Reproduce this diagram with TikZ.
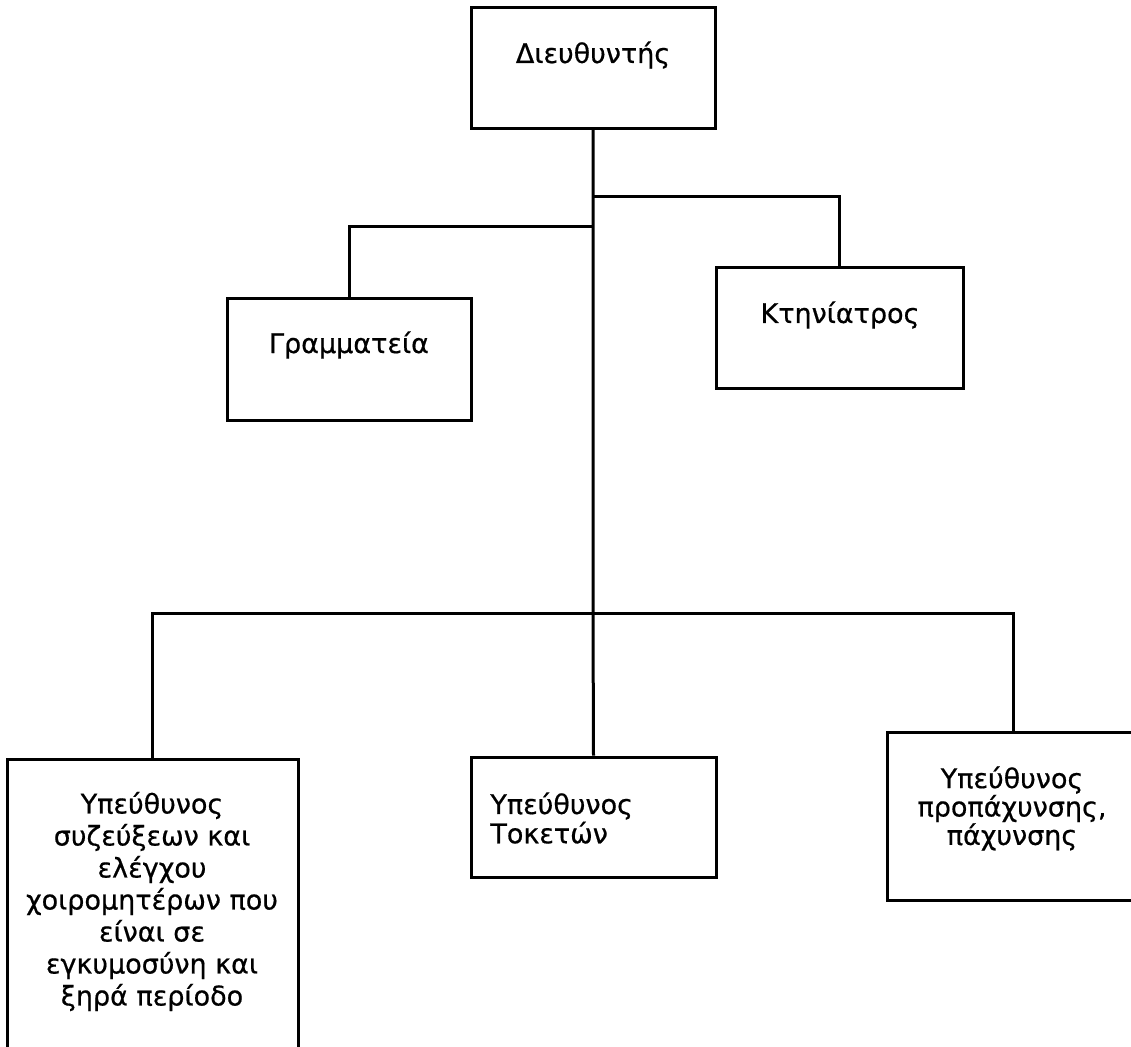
\documentclass[tikz,border=0pt]{standalone}
\usepackage{fontspec}
\setmainfont{DejaVu Sans}[BoldFont={DejaVu Sans},BoldFeatures={FakeBold=0.6}]
\begin{document}
\begin{tikzpicture}[x=0.5pt,y=-0.5pt,
  box/.style={draw, line width=1.5pt, rectangle, inner sep=0pt},
  txt/.style={inner sep=0pt, align=center, font=\bfseries\fontsize{13.5}{16}\selectfont},
  conn/.style={line width=1.5pt}]
\useasboundingbox (0,0) rectangle (1131,1046);
% boxes
\node[box, minimum width=122pt, minimum height=60.5pt] (dir) at (593,67.5) {};
\node[box, minimum width=122pt, minimum height=61pt] (gram) at (349,359) {};
\node[box, minimum width=123.5pt, minimum height=60.5pt] (ktin) at (839.5,327.5) {};
\node[box, minimum width=145.5pt, minimum height=150.5pt] (left) at (152.5,909.5) {};
\node[box, minimum width=122.5pt, minimum height=60pt] (mid) at (593.5,817) {};
\node[box, minimum width=126.5pt, minimum height=84pt] (right) at (1013.5,816) {};
% texts
\node[txt] (dirt) at (593,55) {Διευθυντής};
\node[txt] (gramt) at (349,345) {Γραμματεία};
\node[txt] (ktint) at (840,315) {Κτηνίατρος};
\node[txt, font=\bfseries\fontsize{13.5}{16}\selectfont] (leftt) at (152,901.5) {Υπεύθυνος\\συζεύξεων και\\ελέγχου\\χοιρομητέρων που\\είναι σε\\εγκυμοσύνη και\\ξηρά περίοδο};
\node[txt, align=left, anchor=west, font=\bfseries\fontsize{13.5}{13.5}\selectfont] (midt) at (490,818) {Υπεύθυνος\\Τοκετών};
\node[txt, font=\bfseries\fontsize{13.5}{14.2}\selectfont] (rightt) at (1012,808.5) {Υπεύθυνος\\προπάχυνσης,\\πάχυνσης};
% junctions
\coordinate (j1) at (593,196);
\coordinate (j2) at (593,226);
\coordinate (j3) at (593,613);
% connectors
\draw[conn] (dir.south) -- (j3) -- (mid.north);
\draw[conn] (j1) -| (ktin.north);
\draw[conn] (j2) -| (gram.north);
\draw[conn] (left.north) |- (j3) -| (right.north);
\end{tikzpicture}
\end{document}
